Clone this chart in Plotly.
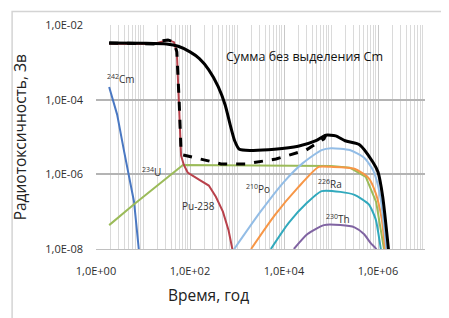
import numpy as np
import plotly.graph_objects as go

# ---- data (log10 of time in years, log10 of radiotoxicity in Sv) ----
sum_nosep_lt = [0.28, 1.0, 1.5, 1.75, 2.0, 2.2, 2.4, 2.6, 2.75, 2.85, 2.95, 3.05, 3.3, 3.8, 4.3, 4.68, 4.89, 5.1, 5.3, 5.6, 5.89, 6.0, 6.1, 6.23]
sum_nosep_lv = [-2.48, -2.49, -2.51, -2.57, -2.72, -2.9, -3.2, -3.65, -4.15, -4.65, -5.1, -5.33, -5.36, -5.33, -5.25, -5.1, -4.95, -4.97, -5.1, -5.2, -5.67, -5.94, -6.6, -8.1]

sum_sep_lt = [0.28, 1.23, 1.38, 1.53, 1.66, 1.72, 1.77, 1.81, 1.85, 2.34, 2.66, 3.19, 3.83, 4.47, 4.85, 4.89]
sum_sep_lv = [-2.48, -2.51, -2.43, -2.40, -2.46, -2.72, -4.06, -5.40, -5.48, -5.62, -5.72, -5.72, -5.59, -5.35, -5.05, -4.95]

cm242_lt = [0.28, 0.45, 0.6, 0.81, 0.91, 0.95]
cm242_lv = [-3.66, -4.4, -5.4, -6.74, -8.0, -8.5]

pu238_lt = [0.28, 1.23, 1.53, 1.66, 1.72, 1.77, 1.81, 1.87, 1.95, 2.2, 2.4, 2.55, 2.7, 2.82, 2.91, 2.95]
pu238_lv = [-2.5, -2.51, -2.40, -2.46, -2.72, -4.06, -5.5, -5.75, -5.95, -6.15, -6.3, -6.6, -7.0, -7.5, -8.05, -8.3]

u234_lt = [0.28, 0.81, 1.85, 3.0, 4.0, 5.0, 5.4, 5.74, 5.96, 6.13, 6.18]
u234_lv = [-7.36, -6.8, -5.75, -5.76, -5.77, -5.78, -5.82, -6.07, -6.74, -8.03, -8.4]

po210_lt = [2.94, 3.5, 4.0, 4.4, 4.8, 5.0, 5.4, 5.7, 5.9, 6.05, 6.18, 6.22]
po210_lv = [-8.0, -7.0, -6.2, -5.7, -5.35, -5.3, -5.35, -5.55, -5.9, -6.6, -8.0, -8.4]

ra226_lt = [3.3, 3.8, 4.3, 4.74, 5.0, 5.5, 5.8, 5.95, 6.08, 6.15, 6.2]
ra226_lv = [-8.0, -7.1, -6.35, -5.8, -5.8, -5.85, -6.1, -6.5, -7.2, -8.0, -8.4]

ra228_lt = [3.72, 4.1, 4.5, 4.8, 5.2, 5.5, 5.8, 5.95, 6.06, 6.1]
ra228_lv = [-8.0, -7.3, -6.75, -6.45, -6.47, -6.55, -6.8, -7.2, -8.0, -8.3]

th230_lt = [4.21, 4.5, 4.85, 5.2, 5.5, 5.7, 5.85, 5.96, 6.0]
th230_lv = [-8.0, -7.6, -7.36, -7.36, -7.42, -7.6, -7.85, -8.0, -8.3]

x_tick_vals = [1, 100, 1e4, 1e6]
x_tick_text = ["1,0E+00", "1,0E+02", "1,0E+04", "1,0E+06"]
y_tick_vals = [1e-8, 1e-6, 1e-4, 1e-2]
y_tick_text = ["1,0E-08", "1,0E-06", "1,0E-04", "1,0E-02"]
x_minor_grid = [k * 10.0 ** n for n in range(0, 7) for k in range(1, 10)] + [1e7]


def p(lt, lv):
    return 10 ** np.array(lt, dtype=float), 10 ** np.array(lv, dtype=float)


series = [
    (cm242_lt, cm242_lv, "#4a78c2", 2, "solid", "linear"),
    (u234_lt, u234_lv, "#9bbb59", 2, "solid", "linear"),
    (ra226_lt, ra226_lv, "#f79646", 2, "solid", "spline"),
    (ra228_lt, ra228_lv, "#31a9bd", 2, "solid", "spline"),
    (th230_lt, th230_lv, "#8064a2", 2, "solid", "spline"),
    (po210_lt, po210_lv, "#93bde6", 2, "solid", "spline"),
    (pu238_lt, pu238_lv, "#b8414b", 2, "solid", "linear"),
    (sum_nosep_lt, sum_nosep_lv, "#000000", 3, "solid", "spline"),
    (sum_sep_lt, sum_sep_lv, "#000000", 3, "dash", "linear"),
]

fig = go.Figure()
for lt, lv, col, w, dash, shape in series:
    x, y = p(lt, lv)
    line = dict(color=col, width=w, dash=dash, shape=shape)
    if shape == "spline":
        line["smoothing"] = 0.6
    fig.add_trace(go.Scatter(x=x, y=y, mode="lines", line=line,
                             showlegend=False, hoverinfo="skip"))

tick_font = dict(family="Open Sans", size=11, color="#2e2e2e")
fig.update_xaxes(type="log", range=[0, 7], tickvals=x_tick_vals, ticktext=x_tick_text,
                 showgrid=True, gridcolor="#c8c8c8", gridwidth=1,
                 minor=dict(tickmode="array", tickvals=x_minor_grid, showgrid=True,
                            gridcolor="#dadada", gridwidth=1, ticks=""),
                 showline=True, linecolor="#c0c0c0", linewidth=1, ticks="",
                 ticklabelstandoff=12, automargin=False,
                 tickfont=tick_font, zeroline=False)
fig.update_yaxes(type="log", range=[-8, -2], tickvals=y_tick_vals, ticktext=y_tick_text,
                 showgrid=True, gridcolor="#b4b4b4", gridwidth=1.5,
                 showline=False, ticks="", tickfont=tick_font, zeroline=False,
                 ticklabelstandoff=12, automargin=False)

ann_font = dict(family="Open Sans", size=10, color="#333333")
annotations = [
    dict(x=np.log10(2.7e4), y=np.log10(1.4e-3), text="Сумма без выделения Cm",
         font=dict(family="Open Sans", size=12.5, color="#111111")),
    dict(x=np.log10(3.4), y=np.log10(3.5e-4), text="<sup>242</sup>Cm", font=ann_font),
    dict(x=np.log10(15.5), y=np.log10(1.15e-6), text="<sup>234</sup>U", font=ann_font),
    dict(x=np.log10(155), y=np.log10(1.4e-7), text="Pu-238", font=ann_font),
    dict(x=np.log10(2800), y=np.log10(4.1e-7), text="<sup>210</sup>Po", font=ann_font),
    dict(x=np.log10(9.5e4), y=np.log10(5.5e-7), text="<sup>226</sup>Ra", font=ann_font),
    dict(x=np.log10(1.4e5), y=np.log10(6.3e-8), text="<sup>230</sup>Th", font=ann_font),
]
for a in annotations:
    fig.add_annotation(xref="x", yref="y", showarrow=False, xanchor="center", yanchor="middle", **a)

title_font = dict(family="Open Sans", size=15.5, color="#222222")
fig.add_annotation(xref="paper", yref="paper", x=0.343, y=-0.205, text="Время, год",
                   xanchor="center", yanchor="middle", showarrow=False, font=title_font)
fig.add_annotation(xref="paper", yref="paper", x=-0.23, y=0.5, text="Радиотоксичность, Зв",
                   xanchor="center", yanchor="middle", textangle=-90, showarrow=False, font=title_font)

fig.add_shape(type="rect", xref="paper", yref="paper", x0=-0.255, x1=1.08, y0=-0.33, y1=1.06,
              line=dict(color="#d4d4d4", width=1.5), fillcolor="rgba(0,0,0,0)", layer="below")

fig.update_layout(width=449, height=318, margin=dict(l=88, r=32, t=17, b=77),
                  paper_bgcolor="white", plot_bgcolor="white")

fig.write_html("out.html")
